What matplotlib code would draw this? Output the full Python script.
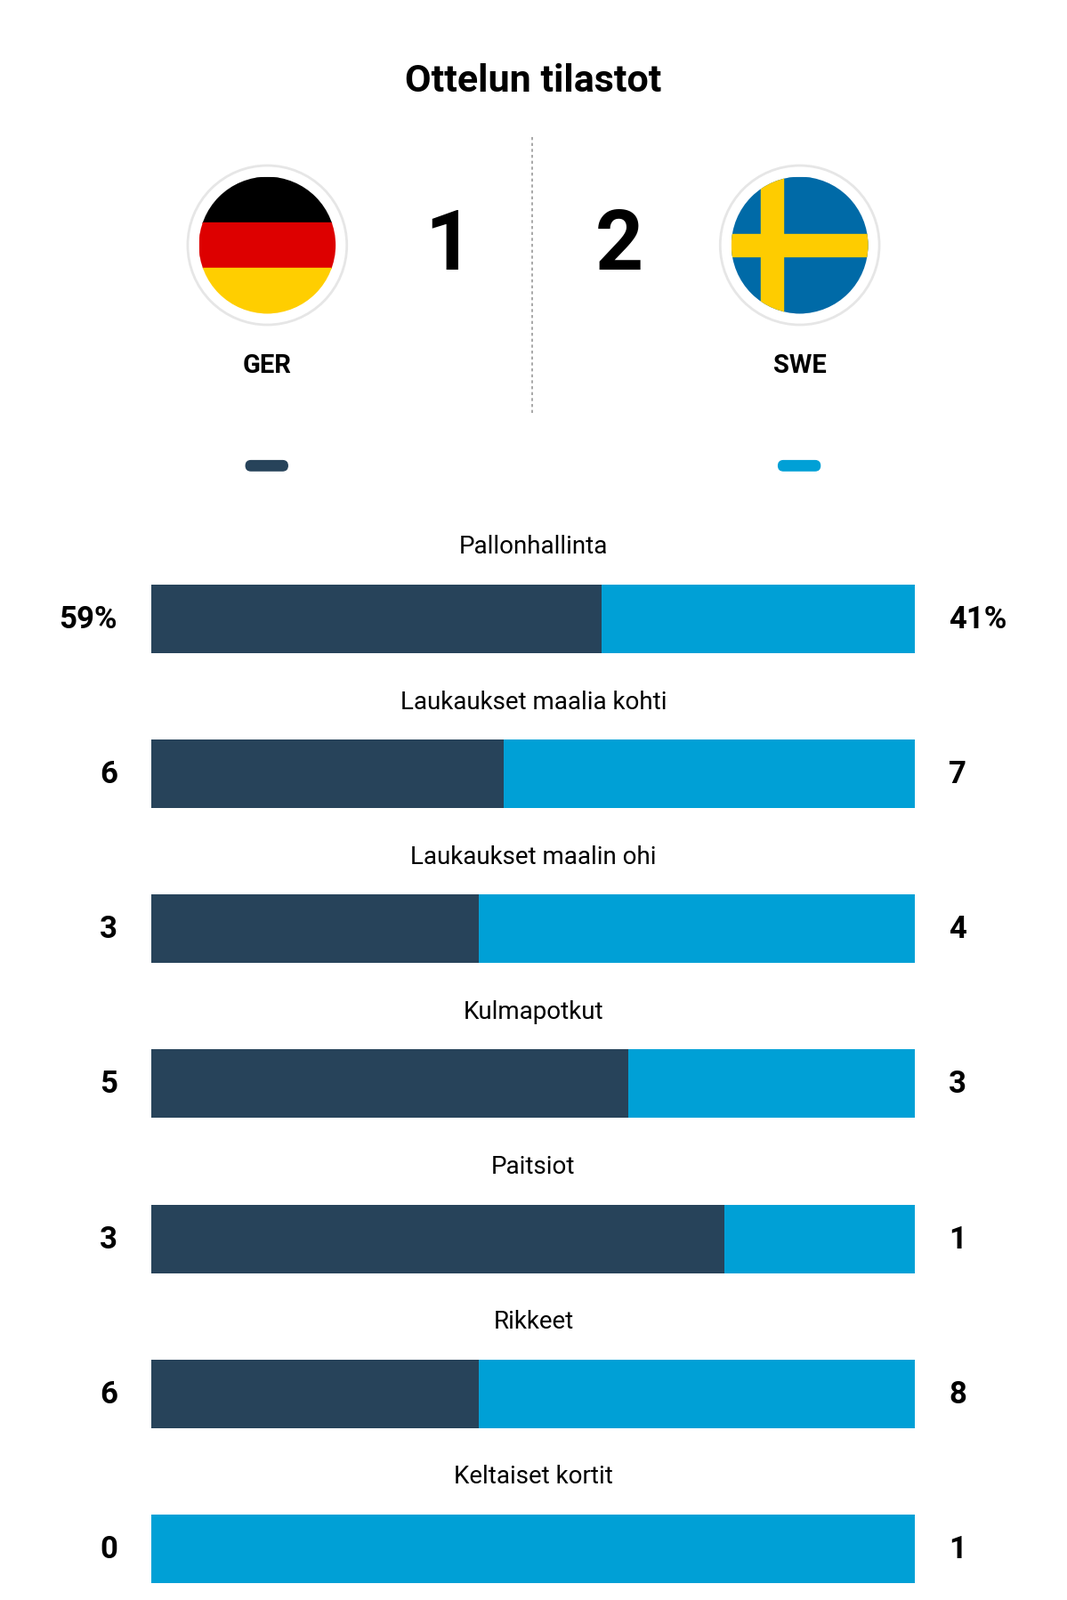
import matplotlib.pyplot as plt
from matplotlib.patches import Circle, Rectangle, FancyBboxPatch

TITLE = "Ottelun tilastot"
TEAMS = ["GER", "SWE"]
SCORES = [1, 2]
CATEGORIES = ["Pallonhallinta", "Laukaukset maalia kohti", "Laukaukset maalin ohi",
              "Kulmapotkut", "Paitsiot", "Rikkeet", "Keltaiset kortit"]
HOME = [59, 6, 3, 5, 3, 6, 0]
AWAY = [41, 7, 4, 3, 1, 8, 1]
HOME_LABELS = ["59%", "6", "3", "5", "3", "6", "0"]
AWAY_LABELS = ["41%", "7", "4", "3", "1", "8", "1"]

DARK = "#27435a"
BLUE = "#00a0d6"
FONT = "Roboto"

W, H = 1046, 1568
fig = plt.figure(figsize=(11.99, 17.99), dpi=100)
ax = fig.add_axes([0, 0, 1, 1])
ax.set_xlim(0, W)
ax.set_ylim(H, 0)
ax.axis("off")

ax.text(523, 80, TITLE, ha="center", va="center", fontsize=31, fontweight="bold", family=FONT)
ax.plot([522, 522], [135, 405], color="#999999", lw=1.2, ls=(0, (2, 2)))


def vlag(cx, cy, land):
    ax.add_patch(Circle((cx, cy), 78, facecolor="white", edgecolor="#e6e6e6", lw=2))
    clip = Circle((cx, cy), 67, transform=ax.transData)
    r = 67
    if land == "GER":
        for i, kleur in enumerate(["#000000", "#dd0000", "#ffce00"]):
            p = Rectangle((cx - r, cy - r + i * 2 * r / 3), 2 * r, 2 * r / 3, color=kleur)
            ax.add_patch(p)
            p.set_clip_path(clip)
    else:
        delen = [Rectangle((cx - r, cy - r), 2 * r, 2 * r, color="#006aa7"),
                 Rectangle((cx - r, cy - 11), 2 * r, 22, color="#fecc00"),
                 Rectangle((cx - 38, cy - r), 22, 2 * r, color="#fecc00")]
        for p in delen:
            ax.add_patch(p)
            p.set_clip_path(clip)


vlag(262, 241, "GER")
vlag(784, 241, "SWE")
ax.text(440, 241, str(SCORES[0]), ha="center", va="center", fontsize=68, fontweight="bold", family=FONT)
ax.text(607, 241, str(SCORES[1]), ha="center", va="center", fontsize=68, fontweight="bold", family=FONT)
ax.text(262, 358, TEAMS[0], ha="center", va="center", fontsize=21, fontweight="bold", family=FONT)
ax.text(784, 358, TEAMS[1], ha="center", va="center", fontsize=21, fontweight="bold", family=FONT)
for x0, kleur in [(236, DARK), (758, BLUE)]:
    ax.add_patch(FancyBboxPatch((x0 + 5, 452), 41, 10, boxstyle="round,pad=0,rounding_size=5",
                                color=kleur))

links, rechts = 148, 897
breedte = rechts - links
for i, cat in enumerate(CATEGORIES):
    ly = 536 + i * 151.8
    by = ly + 71
    totaal = HOME[i] + AWAY[i]
    deel = breedte * HOME[i] / totaal
    ax.text(523, ly, cat, ha="center", va="center", fontsize=20, family=FONT)
    ax.barh(by, deel, left=links, height=67, color=DARK)
    ax.barh(by, breedte - deel, left=links + deel, height=67, color=BLUE)
    ax.text(115, by, HOME_LABELS[i], ha="right", va="center", fontsize=25, fontweight="bold", family=FONT)
    ax.text(930, by, AWAY_LABELS[i], ha="left", va="center", fontsize=25, fontweight="bold", family=FONT)

fig.savefig("out.png", dpi=100, facecolor="white")
